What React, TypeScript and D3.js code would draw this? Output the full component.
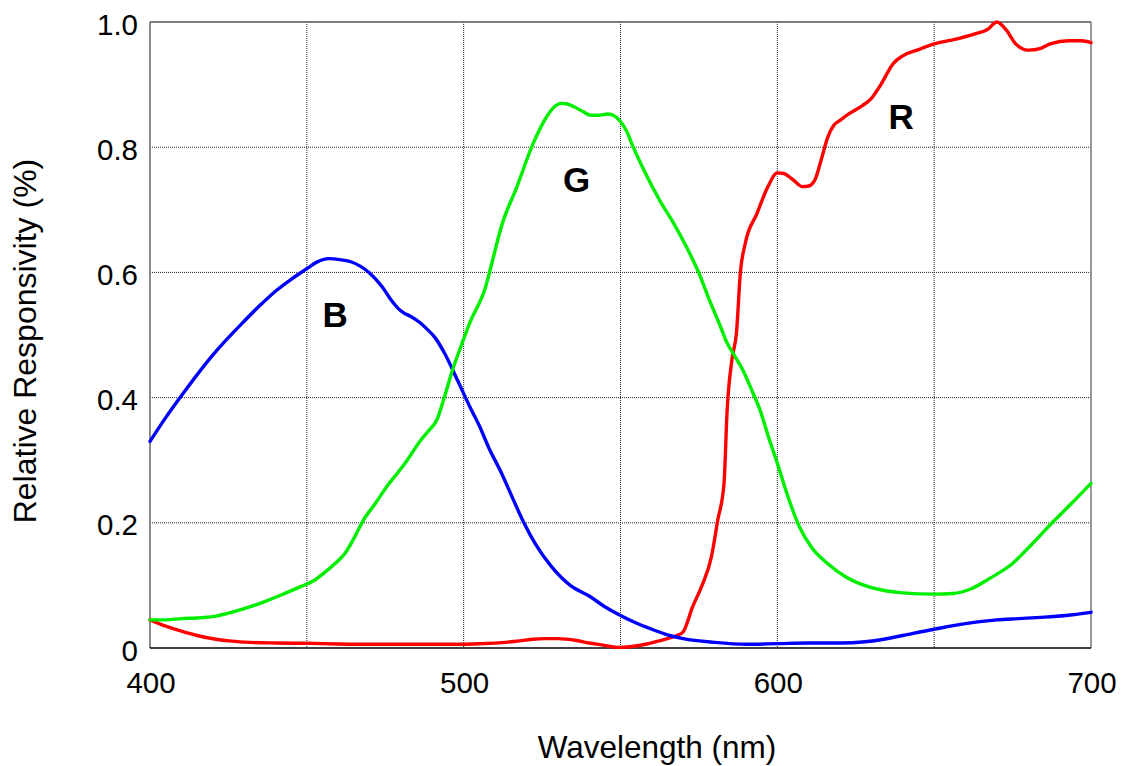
import React from "react";
import * as d3 from "d3";

// Spectral response curves: [wavelength nm, relative response]
const blue: [number, number][] = [
  [400, 0.33], [405, 0.368], [410, 0.403], [420, 0.468], [430, 0.522], [435, 0.547],
  [440, 0.57], [445, 0.589], [450, 0.606], [453, 0.616], [457, 0.622], [461, 0.62],
  [464, 0.617], [467, 0.61], [470, 0.599], [474, 0.577], [477, 0.555], [479, 0.543],
  [481, 0.535], [483, 0.53], [486, 0.52], [488, 0.511], [491, 0.495], [494, 0.47],
  [498, 0.428], [502, 0.385], [505, 0.355], [508, 0.32], [512, 0.28], [516, 0.235],
  [519, 0.202], [523, 0.165], [528, 0.13], [534, 0.1], [540, 0.083], [545, 0.066],
  [550, 0.052], [555, 0.04], [560, 0.03], [565, 0.021], [570, 0.015], [580, 0.009],
  [590, 0.006], [600, 0.007], [610, 0.008], [620, 0.008], [628, 0.01], [634, 0.014],
  [640, 0.02], [650, 0.03], [660, 0.039], [670, 0.045], [677, 0.047], [684, 0.049],
  [692, 0.052], [700, 0.057],
];

const green: [number, number][] = [
  [400, 0.045], [405, 0.045], [410, 0.047], [415, 0.048], [421, 0.051], [426, 0.057],
  [432, 0.066], [437, 0.075], [442, 0.085], [448, 0.098], [452, 0.107], [456, 0.122],
  [459, 0.135], [462, 0.15], [465, 0.175], [468, 0.204], [472, 0.232], [475.5, 0.258],
  [479, 0.28], [482, 0.3], [486, 0.33], [489, 0.348], [491.5, 0.365], [493.5, 0.395],
  [496.5, 0.445], [499, 0.48], [502, 0.52], [507, 0.577], [509, 0.615], [512, 0.673],
  [517, 0.737], [522, 0.804], [526.5, 0.849], [529, 0.865], [531, 0.87], [533, 0.869],
  [535, 0.865], [538, 0.857], [540.5, 0.851], [543, 0.851], [546, 0.853], [548, 0.85],
  [550, 0.841], [552, 0.825], [554, 0.801], [558, 0.758], [562.5, 0.715], [567, 0.678],
  [571, 0.641], [575.5, 0.593], [578, 0.56], [582, 0.512], [584, 0.487], [586, 0.47],
  [589, 0.444], [592, 0.41], [594.5, 0.38], [597, 0.34], [600, 0.295], [603.5, 0.24],
  [607, 0.194], [611, 0.16], [616, 0.135], [622, 0.113], [629, 0.098], [635, 0.091],
  [640, 0.088], [650, 0.086], [656, 0.087], [662, 0.095], [668, 0.112], [675, 0.135],
  [681, 0.165], [688, 0.202], [694, 0.232], [700, 0.263],
];

const red: [number, number][] = [
  [400, 0.045], [405, 0.035], [410, 0.027], [415, 0.02], [421, 0.014], [426, 0.011],
  [432, 0.009], [440, 0.008], [450, 0.0075], [460, 0.0065], [470, 0.006], [480, 0.006],
  [490, 0.006], [500, 0.006], [506, 0.007], [512, 0.0085], [517, 0.011], [522, 0.014],
  [526, 0.015], [530, 0.015], [536, 0.012], [540, 0.008], [544, 0.005], [549, 0.001],
  [553, 0.002], [558, 0.006], [562, 0.011], [565, 0.015], [568, 0.02], [570, 0.026],
  [573, 0.066], [576, 0.1], [579, 0.146], [581, 0.204], [583, 0.263], [584, 0.38],
  [585.5, 0.46], [587, 0.505], [588.2, 0.599], [589.8, 0.647], [593.5, 0.694], [597, 0.737],
  [600, 0.759], [602, 0.758], [605, 0.748], [608, 0.737], [610, 0.738], [612, 0.748],
  [614, 0.78], [616, 0.815], [618, 0.835], [620, 0.843], [623, 0.854], [627, 0.866],
  [630, 0.878], [633, 0.9], [637, 0.934], [640, 0.946], [645, 0.956], [650, 0.965],
  [658, 0.974], [663, 0.981], [667, 0.988], [670, 1.0], [673, 0.987], [676, 0.965],
  [680, 0.955], [684, 0.958], [687, 0.965], [693, 0.97], [697, 0.97], [700, 0.967],
];

const xTicks = [400, 500, 600, 700];
const xGrid = [450, 500, 550, 600, 650];
const yTicks = [0, 0.2, 0.4, 0.6, 0.8, 1.0];
const yTickLabels = ["0", "0.2", "0.4", "0.6", "0.8", "1.0"];

// curve name, wavelength and response where the letter sits
const curveLabels: [string, number, number][] = [
  ["B", 459, 0.532],
  ["G", 536, 0.748],
  ["R", 639.5, 0.849],
];

const W = 1126;
const H = 766;
const margin = { top: 22, right: 35, bottom: 118, left: 150 };
const FONT = "'Liberation Sans', Arial, Helvetica, sans-serif";

export default function App() {
  const x = d3.scaleLinear().domain([400, 700]).range([margin.left, W - margin.right]);
  const y = d3.scaleLinear().domain([0, 1]).range([H - margin.bottom, margin.top]);

  const line = d3
    .line<[number, number]>()
    .x((d) => x(d[0]))
    .y((d) => y(d[1]))
    .curve(d3.curveMonotoneX);

  const series = [
    { data: red, color: "#ff0000" },
    { data: blue, color: "#0000ff" },
    { data: green, color: "#00ee00" },
  ];

  const x0 = x(400), x1 = x(700), y0 = y(0), y1 = y(1);

  return (
    <svg
      width={W}
      height={H}
      style={{ position: "absolute", left: 0, top: 0, background: "#fff" }}
      fontFamily={FONT}
    >
      {/* grid */}
      {xGrid.map((g) => (
        <line key={"gx" + g} x1={x(g)} x2={x(g)} y1={y1} y2={y0}
          stroke="#222" strokeWidth={1} strokeDasharray="1,1" />
      ))}
      {yTicks.filter((t) => t > 0 && t < 1).map((t) => (
        <line key={"gy" + t} x1={x0} x2={x1} y1={y(t)} y2={y(t)}
          stroke="#222" strokeWidth={1} strokeDasharray="1,1" />
      ))}

      {/* frame */}
      <line x1={x0} x2={x1} y1={y1} y2={y1} stroke="#555" strokeWidth={1.5} />
      <line x1={x1} x2={x1} y1={y1} y2={y0} stroke="#777" strokeWidth={1.5} />
      <line x1={x0} x2={x0} y1={y1} y2={y0} stroke="#666" strokeWidth={1.5} />
      <line x1={x0} x2={x1} y1={y0} y2={y0} stroke="#000" strokeWidth={1.5} />

      {/* curves */}
      {series.map((s, i) => (
        <path key={i} d={line(s.data) || ""} fill="none" stroke={s.color}
          strokeWidth={3.4} strokeLinejoin="round" strokeLinecap="round" />
      ))}

      {/* curve letters */}
      {curveLabels.map(([t, wl, v]) => (
        <text key={t} x={x(wl)} y={y(v)} textAnchor="middle" dominantBaseline="central"
          fontSize={35} fontWeight="bold" fill="#000">
          {t}
        </text>
      ))}

      {/* y tick labels */}
      {yTicks.map((t, i) => (
        <text key={"yt" + t} x={x0 - 12} y={y(t) + 2} textAnchor="end"
          dominantBaseline="central" fontSize={29.5} fill="#000">
          {yTickLabels[i]}
        </text>
      ))}

      {/* x tick labels */}
      {xTicks.map((t) => (
        <text key={"xt" + t} x={x(t) + 1} y={y0 + 45} textAnchor="middle"
          fontSize={29.5} fill="#000">
          {t}
        </text>
      ))}

      {/* axis titles */}
      <text x={657} y={758} textAnchor="middle" fontSize={31.5} fill="#000">
        Wavelength (nm)
      </text>
      <text transform={`translate(36, ${(y0 + y1) / 2 + 6}) rotate(-90)`}
        textAnchor="middle" fontSize={32} fill="#000">
        Relative Responsivity (%)
      </text>
    </svg>
  );
}
